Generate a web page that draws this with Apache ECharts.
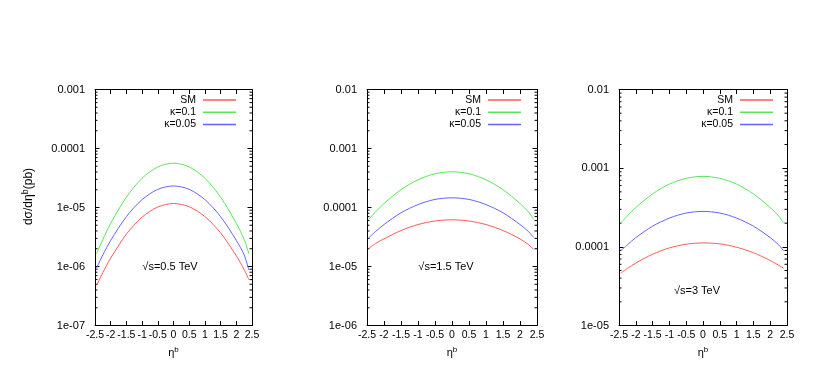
<!DOCTYPE html>
<html>
<head>
<meta charset="utf-8">
<script src="https://cdn.jsdelivr.net/npm/echarts/dist/echarts.min.js"></script>
<style>
  html, body { margin: 0; padding: 0; background: #fff; }
  #chart { width: 830px; height: 376px; }
</style>
</head>
<body>
<div id="chart"></div>
<script>
// eta^b sample points (same for every panel)
const eta = [-2.45, -2.25, -2, -1.5, -1, -0.5, 0, 0.5, 1, 1.5, 2, 2.25, 2.4];

// sqrt(s) = 0.5 TeV
const sm05   = [4.8e-7, 7.9e-7, 1.39e-6, 3.53e-6, 6.87e-6, 1.02e-5, 1.17e-5, 1.03e-5, 7.02e-6, 3.71e-6, 1.52e-6, 8.85e-7, 6.0e-7];
const k01_05 = [1.66e-6, 2.88e-6, 5.4e-6, 1.5e-5, 3.13e-5, 4.87e-5, 5.64e-5, 4.87e-5, 3.13e-5, 1.5e-5, 5.4e-6, 2.88e-6, 1.65e-6];
const k005_05 = [9.4e-7, 1.57e-6, 2.77e-6, 7.0e-6, 1.36e-5, 2.03e-5, 2.32e-5, 2.03e-5, 1.36e-5, 7.0e-6, 2.77e-6, 1.57e-6, 8.7e-7];

// sqrt(s) = 1.5 TeV
const sm15   = [2.02e-5, 2.45e-5, 2.94e-5, 4.07e-5, 5.14e-5, 5.91e-5, 6.19e-5, 5.91e-5, 5.14e-5, 4.07e-5, 2.94e-5, 2.35e-5, 1.96e-5];
const k01_15 = [6.26e-5, 8.4e-5, 1.17e-4, 2.0e-4, 2.95e-4, 3.73e-4, 4.03e-4, 3.73e-4, 2.95e-4, 2.0e-4, 1.17e-4, 8.4e-5, 6.3e-5];
const k005_15 = [3.06e-5, 3.91e-5, 5.15e-5, 8.13e-5, 1.12e-4, 1.37e-4, 1.46e-4, 1.37e-4, 1.12e-4, 8.13e-5, 5.15e-5, 3.91e-5, 3.1e-5];

// sqrt(s) = 3 TeV
const sm3   = [4.62e-5, 5.31e-5, 6.22e-5, 8.05e-5, 9.7e-5, 1.08e-4, 1.12e-4, 1.09e-4, 9.89e-5, 8.41e-5, 6.71e-5, 5.85e-5, 5.35e-5];
const k01_3 = [2.0e-4, 2.48e-4, 3.16e-4, 4.71e-4, 6.27e-4, 7.43e-4, 7.87e-4, 7.43e-4, 6.27e-4, 4.71e-4, 3.16e-4, 2.48e-4, 2.0e-4];
const k005_3 = [8.9e-5, 1.06e-4, 1.31e-4, 1.83e-4, 2.32e-4, 2.69e-4, 2.82e-4, 2.69e-4, 2.32e-4, 1.83e-4, 1.31e-4, 1.06e-4, 8.9e-5];

const seriesNames = ['SM', 'κ=0.1', 'κ=0.05'];
const energyLabels = ['√s=0.5 TeV', '√s=1.5 TeV', '√s=3 TeV'];
const yRanges = [[1e-7, 1e-3], [1e-6, 1e-2], [1e-5, 1e-2]];
const minorSteps = [2, 3, 4, 5, 6, 7, 8, 9];

const FONT = '"Liberation Sans", Arial, sans-serif';
const colors = ['#ff5a5a', '#5ae65a', '#6464ff'];

const panels = [
  { left: 95,  width: 157, legendRight: 594, labelAt: [170, 267], data: [sm05, k01_05, k005_05] },
  { left: 367, width: 170, legendRight: 309, labelAt: [446, 267], data: [sm15, k01_15, k005_15] },
  { left: 619, width: 168, legendRight: 57,  labelAt: [697, 291], data: [sm3, k01_3, k005_3] }
];

function logLabel(v) {
  const e = Math.round(Math.log10(v));
  return e >= -4 ? v.toFixed(-e) : '1e-' + String(-e).padStart(2, '0');
}

const chart = echarts.init(document.getElementById('chart'));

const grid = [], xAxis = [], yAxis = [], series = [], legend = [], graphic = [];

panels.forEach((p, i) => {
  const [ymin, ymax] = yRanges[i];
  const decades = Math.round(Math.log10(ymax / ymin));
  grid.push({ left: p.left, width: p.width, top: 89.5, height: 236, show: false });

  const xBase = {
    type: 'value', gridIndex: i, min: -2.5, max: 2.5, interval: 0.5,
    axisLine: { show: true, onZero: false, lineStyle: { color: '#000', width: 1 } },
    axisTick: { show: true, inside: true, length: 4.5, lineStyle: { color: '#000' } },
    splitLine: { show: false }
  };
  xAxis.push(Object.assign({}, xBase, {
    position: 'bottom',
    axisLabel: { color: '#000', fontSize: 10.5, fontFamily: FONT, margin: 4 },
    name: 'η{sup|b}', nameLocation: 'middle', nameGap: 16,
    nameTextStyle: {
      color: '#000', fontSize: 11, fontFamily: FONT, verticalAlign: 'top',
      rich: { sup: { fontSize: 8, fontFamily: FONT, color: '#000', padding: [0, 0, 7, 0] } }
    }
  }));
  xAxis.push(Object.assign({}, xBase, { position: 'top', axisLabel: { show: false } }));

  const yBase = {
    type: 'log', logBase: 10, gridIndex: i, min: ymin, max: ymax, splitNumber: decades,
    axisLine: { show: true, onZero: false, lineStyle: { color: '#000', width: 1 } },
    axisTick: { show: true, inside: true, length: 4.5, lineStyle: { color: '#000' } },
    splitLine: { show: false }
  };
  const yLeft = Object.assign({}, yBase, {
    position: 'left',
    axisLabel: { color: '#000', fontSize: 11, fontFamily: FONT, margin: 10, formatter: logLabel }
  });
  if (i === 0) {
    Object.assign(yLeft, {
      name: 'dσ/dη{sup|b}(pb)', nameLocation: 'middle', nameGap: 58, nameRotate: 90,
      nameTextStyle: {
        color: '#000', fontSize: 12, fontFamily: FONT, padding: [0, 0, 0, 22],
        rich: { sup: { fontSize: 9, fontFamily: FONT, color: '#000', padding: [0, 0, 7, 0] } }
      }
    });
  }
  yAxis.push(yLeft);
  yAxis.push(Object.assign({}, yBase, { position: 'right', axisLabel: { show: false } }));

  p.data.forEach((vals, k) => {
    series.push({
      type: 'line', name: seriesNames[k],
      xAxisIndex: 2 * i, yAxisIndex: 2 * i,
      data: eta.map((x, j) => [x, vals[j]]),
      symbol: 'none', showSymbol: false, smooth: 0.3,
      lineStyle: { width: 1, color: colors[k] },
      itemStyle: { color: colors[k] },
      animation: false, silent: true
    });
  });

  // log minor ticks on left and right frame edges
  const minorVals = [];
  for (let d = 0; d < decades; d++) {
    minorSteps.forEach(m => minorVals.push([-2.5, ymin * Math.pow(10, d) * m]));
  }
  series.push({
    type: 'custom', xAxisIndex: 2 * i, yAxisIndex: 2 * i, silent: true, animation: false,
    data: minorVals,
    renderItem: (params, api) => {
      const v = api.value(1);
      const l = api.coord([-2.5, v]);
      const r = api.coord([2.5, v]);
      const st = { stroke: '#000', lineWidth: 1 };
      return {
        type: 'group',
        children: [
          { type: 'line', shape: { x1: l[0], y1: l[1], x2: l[0] + 2.5, y2: l[1] }, style: st },
          { type: 'line', shape: { x1: r[0], y1: r[1], x2: r[0] - 2.5, y2: r[1] }, style: st }
        ]
      };
    }
  });

  legend.push({
    data: seriesNames, orient: 'vertical', align: 'right',
    right: p.legendRight, top: 94, padding: 0,
    icon: 'rect', itemWidth: 33, itemHeight: 1.5, itemGap: 0.3,
    selectedMode: false,
    textStyle: { color: '#000', fontSize: 10.5, fontFamily: FONT, lineHeight: 12, padding: [0, 2, 0, 0] }
  });

  graphic.push({
    type: 'text', x: p.labelAt[0], y: p.labelAt[1], silent: true,
    style: {
      text: energyLabels[i], fill: '#000', font: '11px ' + FONT,
      align: 'center', verticalAlign: 'middle', textAlign: 'center', textVerticalAlign: 'middle'
    }
  });
});

chart.setOption({
  backgroundColor: '#fff',
  animation: false,
  grid, xAxis, yAxis, series, legend, graphic
});
</script>
</body>
</html>
